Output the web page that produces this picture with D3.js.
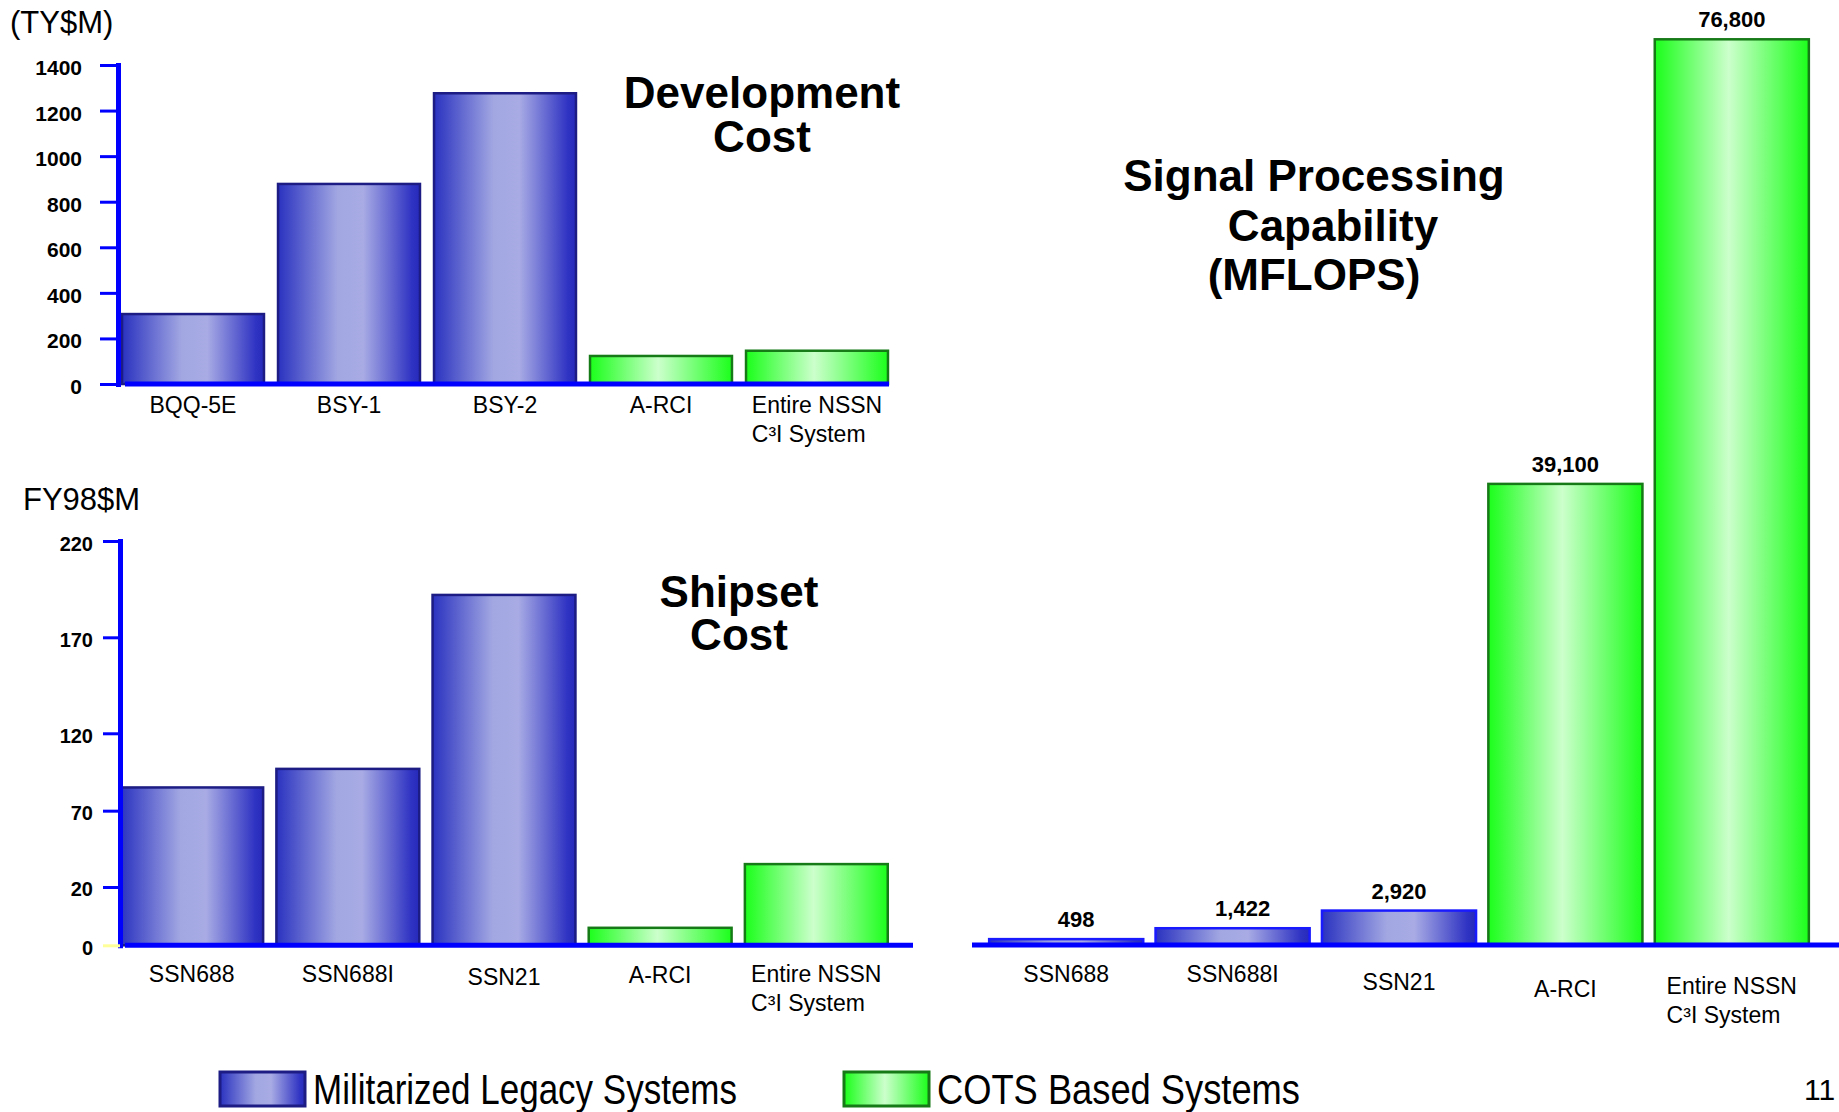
<!DOCTYPE html>
<html>
<head>
<meta charset="utf-8">
<script src="https://cdn.jsdelivr.net/npm/d3@7"></script>
<style>
  html, body { margin: 0; padding: 0; background: #fff; }
  svg { display: block; font-family: 'Liberation Sans', Arial, sans-serif; }
  .tick text { font-weight: bold; font-size: 21px; fill: #000; }
  .cat { font-size: 23px; fill: #000; }
  .title { font-size: 44px; font-weight: bold; fill: #000; text-anchor: middle; }
</style>
</head>
<body>
<div id="chart"></div>
<script>
const WIDTH = 1839;
const HEIGHT = 1112;

// development cost, TY$M
const devCategories = ['BQQ-5E', 'BSY-1', 'BSY-2', 'A-RCI', 'Entire NSSN\nC³I System'];
const devValues = [307, 878, 1276, 123, 146];
const devTicks = [0, 200, 400, 600, 800, 1000, 1200, 1400];

// shipset cost, FY98$M (the original axis is not evenly spaced)
const shipCategories = ['SSN688', 'SSN688I', 'SSN21', 'A-RCI', 'Entire NSSN\nC³I System'];
const shipValues = [85, 97, 192, 6, 35];
const shipTicks = [0, 20, 70, 120, 170, 220];

// signal processing capability, MFLOPS
const sigCategories = ['SSN688', 'SSN688I', 'SSN21', 'A-RCI', 'Entire NSSN\nC³I System'];
const sigValues = [498, 1422, 2920, 39100, 76800];

// family of each bar, same order in every panel
const systemType = ['legacy', 'legacy', 'legacy', 'cots', 'cots'];
const legendTypes = ['legacy', 'cots'];
const legendLabels = ['Militarized Legacy Systems', 'COTS Based Systems'];

const AXIS_BLUE = '#0000ff';
const BORDER = { legacy: '#1c1c84', cots: '#167a16' };
const LINE_H = 29;

const svg = d3.select('#chart')
  .append('svg')
    .attr('width', WIDTH)
    .attr('height', HEIGHT);

// bar gradients
const defs = svg.append('defs');
const gradStops = {
  legacy: [[0, '#2a32c0'], [0.42, '#a2a7e2'], [0.6, '#a8abe4'], [0.94, '#3034c3'], [1, '#2629b9']],
  cots: [[0, '#1cff1c'], [0.06, '#30ff30'], [0.48, '#ccffcc'], [0.94, '#30ff30'], [1, '#1cff1c']]
};
Object.keys(gradStops).forEach(key => {
  defs.append('linearGradient')
      .attr('id', `grad-${key}`)
      .attr('x1', 0).attr('x2', 1).attr('y1', 0).attr('y2', 0)
    .selectAll('stop')
    .data(gradStops[key])
    .join('stop')
      .attr('offset', d => d[0])
      .attr('stop-color', d => d[1]);
});

const styleAxis = axisG => {
  axisG.select('.domain')
       .attr('stroke', AXIS_BLUE)
       .attr('stroke-width', 5)
       .attr('stroke-linecap', 'square');
  axisG.selectAll('.tick line')
       .attr('stroke', AXIS_BLUE)
       .attr('stroke-width', 3);
  axisG.selectAll('.tick text').attr('dy', '0.45em');
};

const drawBars = (g, x, y, cats, vals, borderFor) => {
  g.selectAll('rect.bar')
   .data(vals)
   .join('rect')
     .attr('class', 'bar')
     .attr('x', (d, i) => x(cats[i]))
     .attr('y', d => y(d))
     .attr('width', x.bandwidth())
     .attr('height', d => y(0) - y(d))
     .attr('fill', (d, i) => `url(#grad-${systemType[i]})`)
     .attr('stroke', (d, i) => borderFor(systemType[i]))
     .attr('stroke-width', 2.5);
};

const drawCategoryLabels = (g, x, cats, baseY, dys) => {
  const labels = g.selectAll('text.cat')
    .data(cats)
    .join('text')
      .attr('class', 'cat')
      .attr('y', (c, i) => baseY + (dys ? dys[i] : 0));
  labels.each(function (c) {
    const t = d3.select(this);
    const lines = c.split('\n');
    lines.forEach((ln, k) => t.append('tspan').attr('dy', k ? LINE_H : 0).text(ln));
    const cx = x(c) + x.bandwidth() / 2;
    if (lines.length === 1) {
      t.attr('text-anchor', 'middle').selectAll('tspan').attr('x', cx);
    } else {
      const w = t.select('tspan').node().getComputedTextLength();
      t.selectAll('tspan').attr('x', cx - w / 2);
    }
  });
};

const drawTitle = (lines, cx, y0, lh, shifts) => {
  lines.forEach((ln, k) => svg.append('text')
    .attr('class', 'title')
    .attr('x', cx + (shifts ? shifts[k] : 0))
    .attr('y', y0 + k * lh)
    .text(ln));
};

// ---------- Development cost ----------
const devX = d3.scaleBand().domain(devCategories).range([115, 895])
               .paddingInner(0.09).paddingOuter(0.045);
const devY = d3.scaleLinear().domain([0, 1400]).range([384, 65]);
const devG = svg.append('g');

drawBars(devG, devX, devY, devCategories, devValues, k => BORDER[k]);

devG.append('line')
    .attr('x1', 125).attr('x2', 889)
    .attr('y1', devY(0)).attr('y2', devY(0))
    .attr('stroke', AXIS_BLUE).attr('stroke-width', 5);

const devAxis = devG.append('g')
    .attr('transform', 'translate(118,0)')
    .call(d3.axisLeft(devY).tickValues(devTicks).tickFormat(d3.format('d'))
            .tickSize(18).tickSizeOuter(0).tickPadding(18));
styleAxis(devAxis);

drawCategoryLabels(devG, devX, devCategories, 413);

svg.append('text').attr('x', 10).attr('y', 33)
   .style('font-size', '31px').text('(TY$M)');
drawTitle(['Development', 'Cost'], 762, 108, 43.5);

// ---------- Shipset cost ----------
const shipTop = 541, shipBottom = 945.3;
const shipTickFrac = [0, 0.1442, 0.333, 0.5244, 0.7618, 1];
const shipX = d3.scaleBand().domain(shipCategories).range([114, 894])
                .paddingInner(0.085).paddingOuter(0.04);
const shipY = d3.scaleLinear()
                .domain(shipTicks)
                .range(shipTickFrac.map(f => shipBottom - f * (shipBottom - shipTop)));
const shipG = svg.append('g');

drawBars(shipG, shipX, shipY, shipCategories, shipValues, k => BORDER[k]);

shipG.append('line')
     .attr('x1', 125).attr('x2', 913)
     .attr('y1', shipY(0)).attr('y2', shipY(0))
     .attr('stroke', AXIS_BLUE).attr('stroke-width', 5);

const shipAxis = shipG.append('g')
    .attr('transform', 'translate(120,0)')
    .call(d3.axisLeft(shipY).tickValues(shipTicks).tickFormat(d3.format('d'))
            .tickSize(17).tickSizeOuter(0).tickPadding(10));
styleAxis(shipAxis);
shipAxis.selectAll('.tick').filter(d => d === 0).select('line').attr('stroke', '#ffff99');
shipAxis.selectAll('.tick text').style('font-size', '20px');

drawCategoryLabels(shipG, shipX, shipCategories, 982, [0, 0, 3, 1, 0]);

svg.append('text').attr('x', 23).attr('y', 510)
   .style('font-size', '31px').text('FY98$M');
drawTitle(['Shipset', 'Cost'], 739, 607, 42.5);

// ---------- Signal processing capability ----------
const sigX = d3.scaleBand().domain(sigCategories).range([983, 1815])
               .paddingInner(0.074).paddingOuter(0.037);
const sigY = d3.scaleLinear().domain([0, 76800]).range([945, 39.3]);
const sigG = svg.append('g');

drawBars(sigG, sigX, sigY, sigCategories, sigValues,
         k => (k === 'legacy' ? '#1a1aff' : BORDER.cots));

sigG.append('line')
    .attr('x1', 972).attr('x2', WIDTH)
    .attr('y1', sigY(0)).attr('y2', sigY(0))
    .attr('stroke', AXIS_BLUE).attr('stroke-width', 5);

sigG.selectAll('text.val')
    .data(sigValues)
    .join('text')
      .attr('class', 'val')
      .attr('x', (d, i) => sigX(sigCategories[i]) + sigX.bandwidth() / 2 + (i < 2 ? 10 : 0))
      .attr('y', d => sigY(d) - 12)
      .attr('text-anchor', 'middle')
      .style('font-size', '22px')
      .style('font-weight', 'bold')
      .text(d3.format(','));

drawCategoryLabels(sigG, sigX, sigCategories, 982, [0, 0, 8, 15, 12]);

drawTitle(['Signal Processing', 'Capability', '(MFLOPS)'], 1314, 191, 49.5, [0, 19, 0]);

// ---------- Legend ----------
const legendX = [220, 844];
const legend = svg.append('g')
  .selectAll('g')
  .data(legendLabels)
  .join('g')
    .attr('transform', (d, i) => `translate(${legendX[i]},1072)`);

legend.append('rect')
      .attr('width', 85).attr('height', 34)
      .attr('fill', (d, i) => `url(#grad-${legendTypes[i]})`)
      .attr('stroke', (d, i) => BORDER[legendTypes[i]])
      .attr('stroke-width', 3);

legend.append('text')
      .attr('x', 93).attr('y', 32)
      .attr('textLength', (d, i) => [424, 363][i])
      .attr('lengthAdjust', 'spacingAndGlyphs')
      .style('font-size', '42px')
      .text(d => d);

svg.append('text').attr('x', 1804).attr('y', 1100)
   .style('font-size', '30px').text('11');
</script>
</body>
</html>
